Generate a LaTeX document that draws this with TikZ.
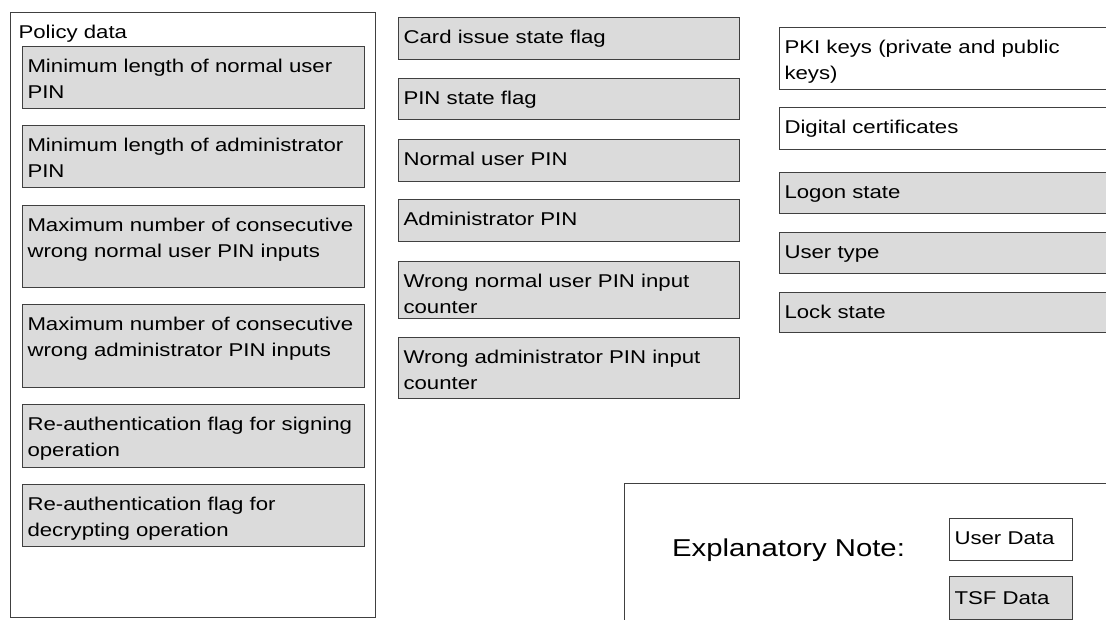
\documentclass[tikz,border=0pt]{standalone}
\usepackage{fontspec}
\setmainfont{Liberation Sans}[FakeStretch=1.2]

\begin{document}
\begin{tikzpicture}[x=1pt, y=-1pt,
  font=\fontsize{18.5}{25.5}\selectfont,
  field/.style={draw=black!75, line width=1pt, anchor=north west, align=left,
    inner xsep=5pt, inner ysep=0pt, text height=26pt},
  tsf/.style={field, fill=black!14},
  usr/.style={field, fill=white}]
  \useasboundingbox (0,0) rectangle (1106,619);
  \clip (0,0) rectangle (1106,619);

  \node[usr, inner xsep=8pt, text width=349pt, text depth=579pt] (policy) at (10,12) {Policy data};
  \node[tsf, text width=332pt, text depth=36pt] (minuser) at (22,46) {Minimum length of normal user\\PIN};
  \node[tsf, text width=332pt, text depth=36pt] (minadmin) at (22,125) {Minimum length of administrator\\PIN};
  \node[tsf, text width=332pt, text depth=56pt] (maxuser) at (22,205) {Maximum number of consecutive\\wrong normal user PIN inputs};
  \node[tsf, text width=332pt, text depth=57pt] (maxadmin) at (22,304) {Maximum number of consecutive\\wrong administrator PIN inputs};
  \node[tsf, text width=332pt, text depth=37pt] (reauthsign) at (22,404) {Re-authentication flag for signing\\operation};
  \node[tsf, text width=332pt, text depth=36pt] (reauthdec) at (22,484) {Re-authentication flag for\\decrypting operation};

  \node[tsf, text width=331pt, text depth=16pt] (cardflag) at (398,17) {Card issue state flag};
  \node[tsf, text width=331pt, text depth=15pt] (pinflag) at (398,78) {PIN state flag};
  \node[tsf, text width=331pt, text depth=16pt] (userpin) at (398,139) {Normal user PIN};
  \node[tsf, text width=331pt, text depth=16pt] (adminpin) at (398,199) {Administrator PIN};
  \node[tsf, text width=331pt, text depth=31pt] (usercnt) at (398,261) {Wrong normal user PIN input\\counter};
  \node[tsf, text width=331pt, text depth=35pt] (admincnt) at (398,337) {Wrong administrator PIN input\\counter};

  \node[usr, text width=330pt, text depth=36pt] (pkikeys) at (779,27) {PKI keys (private and public\\keys)};
  \node[usr, text width=330pt, text depth=16pt] (certs) at (779,107) {Digital certificates};
  \node[tsf, text width=330pt, text depth=15pt] (logon) at (779,172) {Logon state};
  \node[tsf, text width=330pt, text depth=15pt] (usertype) at (779,232) {User type};
  \node[tsf, text width=330pt, text depth=14pt] (lockstate) at (779,292) {Lock state};

  \node[usr, inner sep=0pt, minimum width=520pt, minimum height=170pt] (legend) at (624,483) {};
  \node[anchor=base west, inner sep=0pt, font=\fontsize{24.4}{28}\selectfont] (note) at (672,556) {Explanatory Note:};
  \node[usr, text width=113pt, text depth=16pt] (userdata) at (949,518) {User Data};
  \node[tsf, text width=113pt, text depth=15pt, text height=28pt] (tsfdata) at (949,576) {TSF Data};
\end{tikzpicture}
\end{document}
